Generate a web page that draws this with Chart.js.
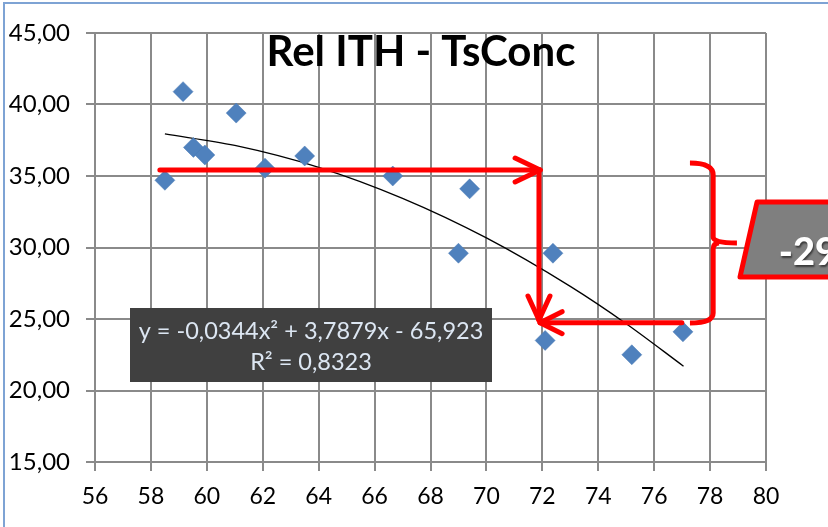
<!DOCTYPE html>
<html>
<head>
<meta charset="utf-8">
<script src="https://cdn.jsdelivr.net/npm/chart.js@4"></script>
<style>
  html, body { margin: 0; padding: 0; background: #fff; }
  #wrap { width: 828px; height: 527px; }
</style>
</head>
<body>
<div id="wrap"><canvas id="myChart" width="828" height="527"></canvas></div>
<script>
// measured points (x = Rel ITH, y = TsConc)
const pointX = [58.5, 59.15, 59.52, 59.93, 61.05, 62.08, 63.5, 66.65, 69.4, 69.0, 72.38, 72.1, 75.2, 77.03];
const pointY = [34.7, 40.9, 37.0, 36.47, 39.4, 35.55, 36.4, 35.0, 34.1, 29.6, 29.6, 23.5, 22.5, 24.1];

// trendline
const trendX = [58.5, 61, 64, 67, 70, 73, 75, 77.05];
const trendY = [37.94, 37.14, 35.61, 33.44, 30.67, 27.28, 24.67, 21.7];

const eqLines = ['y = -0,0344x\u00B2 + 3,7879x - 65,923', 'R\u00B2 = 0,8323'];
const chartTitle = 'Rel ITH - TsConc';
const boxLabel = '-29';

// red arrows, in data units
const arrowTop = { x1: 58.32, x2: 71.92, y: 35.42 };
const arrowDown = { x: 71.88, y1: 35.42, y2: 24.93 };
const arrowBack = { x1: 76.99, x2: 71.92, y: 24.74 };
const bracket = { xEnd: 77.28, xSpine: 78.11, xTip: 78.96, yTop: 35.91, yMid: 30.31, yBot: 24.72 };
const tag = { xTopLeft: 79.68, xBotLeft: 79.07, xRight: 83, yTop: 33.18, yBot: 27.94, xText: 80.46, yText: 29.7 };

const ctx = document.getElementById('myChart').getContext('2d');

function dec(v) { return v.toFixed(2).replace('.', ','); }

function headLine(c, tx, ty, ax, ay) {
  c.beginPath();
  c.moveTo(ax, ay);
  c.lineTo(tx, ty);
  c.stroke();
}

const overlay = {
  id: 'overlay',
  afterDatasetsDraw(chart) {
    const c = chart.ctx;
    const xs = chart.scales.x, ys = chart.scales.y;
    const px = v => xs.getPixelForValue(v);
    const py = v => ys.getPixelForValue(v);
    c.save();

    // equation box
    c.fillStyle = '#404040';
    c.fillRect(130, 308, 362, 74);
    c.fillStyle = '#dce6f2';
    c.font = '23.5px Lato';
    c.textAlign = 'center';
    c.textBaseline = 'middle';
    c.fillText(eqLines[0], 311, 331);
    c.fillText(eqLines[1], 311, 362);

    // arrows
    c.strokeStyle = '#ff0000';
    c.lineWidth = 5;
    c.lineCap = 'round';
    c.lineJoin = 'round';
    c.beginPath();
    c.moveTo(px(arrowTop.x1), py(arrowTop.y));
    c.lineTo(px(arrowTop.x2), py(arrowTop.y));
    c.stroke();
    let tx = px(arrowTop.x2), ty = py(arrowTop.y);
    headLine(c, tx, ty, tx - 25, ty - 12);
    headLine(c, tx, ty, tx - 25, ty + 12);

    c.beginPath();
    c.moveTo(px(arrowDown.x), py(arrowDown.y1));
    c.lineTo(px(arrowDown.x), py(arrowDown.y2));
    c.stroke();
    tx = px(arrowDown.x); ty = py(arrowDown.y2);
    headLine(c, tx, ty, tx - 11, ty - 24);
    headLine(c, tx, ty, tx + 11, ty - 24);

    c.beginPath();
    c.moveTo(px(arrowBack.x1), py(arrowBack.y));
    c.lineTo(px(arrowBack.x2), py(arrowBack.y));
    c.stroke();
    tx = px(arrowBack.x2); ty = py(arrowBack.y);
    headLine(c, tx, ty, tx + 22, ty - 11);
    headLine(c, tx, ty, tx + 22, ty + 11);

    // bracket
    const bx0 = px(bracket.xEnd), bs = px(bracket.xSpine), bt = px(bracket.xTip);
    const yT = py(bracket.yTop), yM = py(bracket.yMid), yB = py(bracket.yBot);
    c.lineCap = 'butt';
    c.beginPath();
    c.moveTo(bx0, yT);
    c.quadraticCurveTo(bs, yT, bs, yT + 12);
    c.lineTo(bs, yM - 6);
    c.quadraticCurveTo(bs, yM, bt, yM);
    c.moveTo(bs + 6, yM);
    c.quadraticCurveTo(bs, yM, bs, yM + 6);
    c.lineTo(bs, yB - 10);
    c.quadraticCurveTo(bs, yB, bx0, yB);
    c.stroke();

    // tag box
    c.beginPath();
    c.moveTo(px(tag.xTopLeft), py(tag.yTop));
    c.lineTo(px(tag.xRight), py(tag.yTop));
    c.lineTo(px(tag.xRight), py(tag.yBot));
    c.lineTo(px(tag.xBotLeft), py(tag.yBot));
    c.closePath();
    c.fillStyle = '#7f7f7f';
    c.fill();
    c.lineJoin = 'round';
    c.stroke();
    c.font = '900 38px Lato';
    c.textAlign = 'left';
    c.textBaseline = 'alphabetic';
    c.shadowColor = 'rgba(0,0,0,0.55)';
    c.shadowOffsetX = 1;
    c.shadowOffsetY = 2;
    c.shadowBlur = 2;
    c.fillStyle = '#ffffff';
    c.fillText(boxLabel, px(tag.xText), py(tag.yText) + 13);
    c.restore();

    // title
    c.save();
    c.font = 'bold 42px Lato';
    c.fillStyle = '#000';
    c.textAlign = 'center';
    c.textBaseline = 'alphabetic';
    c.fillText(chartTitle, 421, 66);

    // frame
    c.strokeStyle = '#7ea3d4';
    c.lineWidth = 2;
    c.beginPath();
    c.moveTo(4, 527);
    c.lineTo(4, 3);
    c.lineTo(828, 3);
    c.stroke();
    c.restore();
  }
};

const data = {
  datasets: [{
    label: 'points',
    data: pointX.map((x, i) => ({ x: x, y: pointY[i] })),
    pointStyle: 'rectRot',
    pointRadius: 10,
    pointHoverRadius: 10,
    backgroundColor: '#4f81bd',
    borderColor: '#4a7ab5',
    borderWidth: 0.5,
    order: 1
  }, {
    label: 'trend',
    data: trendX.map((x, i) => ({ x: x, y: trendY[i] })),
    showLine: true,
    borderColor: '#000',
    borderWidth: 1.3,
    pointRadius: 0,
    cubicInterpolationMode: 'monotone',
    order: 2
  }]
};

const config = {
  type: 'scatter',
  data: data,
  options: {
    responsive: false,
    animation: false,
    layout: { padding: { top: 33, right: 62, left: 0, bottom: 0 } },
    plugins: {
      legend: { display: false },
      tooltip: { enabled: false }
    },
    scales: {
      x: {
        min: 56,
        max: 80,
        afterFit: s => { s.height = 65; },
        ticks: { stepSize: 2, padding: 12, color: '#000', font: { family: 'Lato', size: 23 } },
        grid: { color: '#8a8a8a', lineWidth: 2, tickLength: 9 },
        border: { color: '#8a8a8a', width: 2 }
      },
      y: {
        min: 15,
        max: 45,
        afterFit: s => { s.width = 95; },
        ticks: { stepSize: 5, padding: 16, color: '#000', font: { family: 'Lato', size: 24 }, callback: v => dec(v) },
        grid: { color: '#8a8a8a', lineWidth: 2, tickLength: 9 },
        border: { color: '#8a8a8a', width: 2 }
      }
    }
  },
  plugins: [overlay]
};

new Chart(ctx, config);
</script>
</body>
</html>
